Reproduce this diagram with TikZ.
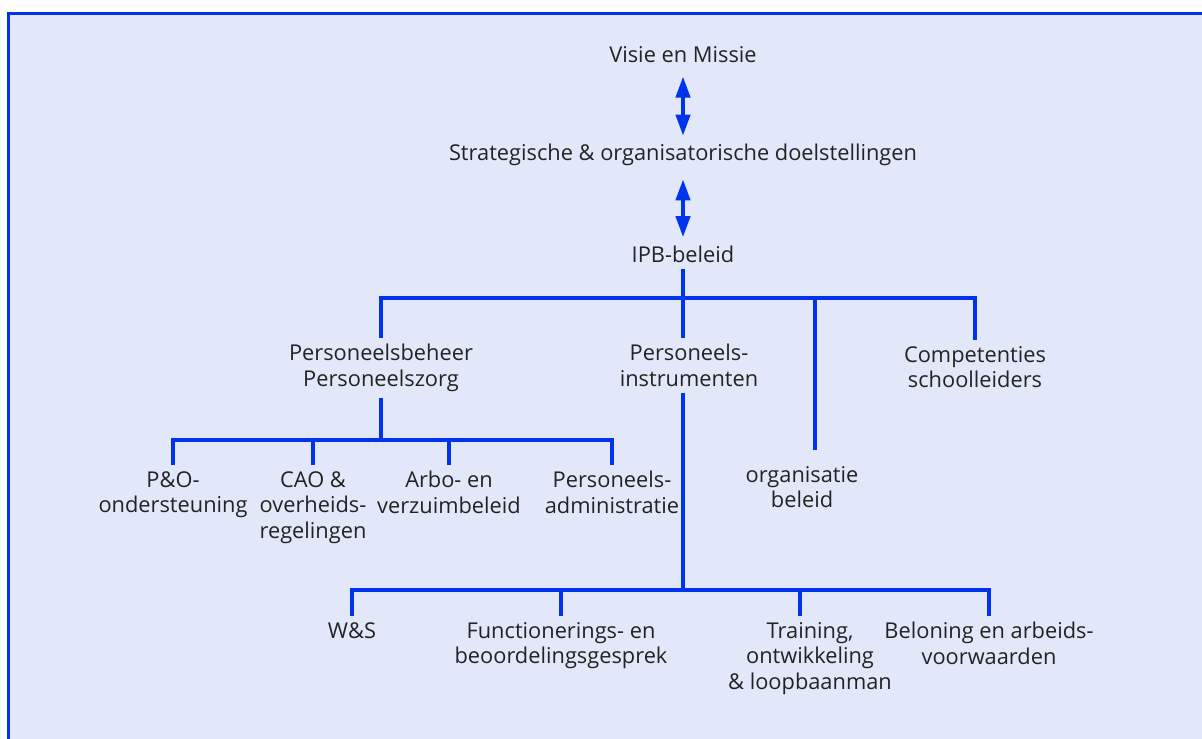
\documentclass[tikz,border=0pt]{standalone}
\usepackage{fontspec}
\setmainfont{Open Sans}
\usetikzlibrary{arrows.meta,calc}
\definecolor{bgblue}{RGB}{226,232,250}
\definecolor{lnblue}{RGB}{0,51,238}
\definecolor{txtgray}{RGB}{35,35,35}
\tikzstyle{txt}=[align=center, text=txtgray, inner sep=3pt, font=\fontsize{10.9pt}{12.7pt}\selectfont]
\tikzstyle{top}=[txt, anchor=north]
\tikzstyle{tline}=[draw=lnblue, line width=1.8pt]
\tikzstyle{dblarrow}=[draw=lnblue, line width=2pt, {Triangle[length=10.5pt,width=7pt]}-{Triangle[length=10.5pt,width=7pt]}]

\begin{document}
\begin{tikzpicture}[x=0.5pt,y=-0.5pt]
\useasboundingbox (0,0) rectangle (1202,738);
\fill[bgblue] (8,14) rectangle (1215,750);
\draw[lnblue, line width=1.5pt] (8,750) -- (8,14) -- (1215,14);

\node[txt] (vis) at (683,55) {Visie en Missie};
\node[txt] (strat) at (683,155) {Strategische \& organisatorische doelstellingen};
\node[txt] (ipb) at (683,254) {IPB-beleid};

\node[top] (pbz) at (381,338) {Personeelsbeheer\\Personeelszorg};
\node[top] (pins) at (689,338) {Personeels-\\instrumenten};
\node[top] (comp) at (975,340) {Competenties\\schoolleiders};
\node[top] (org) at (802,460) {organisatie\\beleid};
\coordinate (orgtop) at (815,450);

\node[top] (po) at (173,465) {P\&O-\\ondersteuning};
\node[top] (cao) at (313,465) {CAO \&\\overheids-\\regelingen};
\node[top] (arbo) at (449,465) {Arbo- en\\verzuimbeleid};
\node[top] (padm) at (612,465) {Personeels-\\administratie};

\node[top] (ws) at (352,616) {W\&S};
\node[top] (fb) at (561,616) {Functionerings- en\\beoordelingsgesprek};
\node[top] (tol) at (810,616) {Training,\\ontwikkeling\\\& loopbaanman};
\node[top] (bel) at (989,616) {Beloning en arbeids-\\voorwaarden};
\coordinate (toltop) at (800,616);

\coordinate (bus1) at (683,298);
\coordinate (bus2) at (381,440);
\coordinate (bus3) at (683,590);

\draw[dblarrow, shorten <=3.5pt, shorten >=1pt] (vis.south) -- (strat.north);
\draw[dblarrow, shorten <=3.5pt, shorten >=1pt] (strat.south) -- (ipb.north);

\draw[tline] (ipb.south) -- (ipb.south |- pins.north);
\draw[tline] (pbz.north) |- (bus1) -| (comp.north);
\draw[tline] (bus1 -| orgtop) -- (orgtop);

\draw[tline] (pbz.south) -- (bus2);
\draw[tline] (po.north) |- (bus2) -| (padm.north);
\draw[tline] (cao.north |- bus2) -- (cao.north);
\draw[tline] (arbo.north |- bus2) -- (arbo.north);

\draw[tline] (bus3 |- pins.south) -- (bus3);
\draw[tline] (ws.north) |- (bus3) -| (bel.north);
\draw[tline] (fb.north |- bus3) -- (fb.north);
\draw[tline] (toltop |- bus3) -- (toltop);

\end{tikzpicture}
\end{document}
